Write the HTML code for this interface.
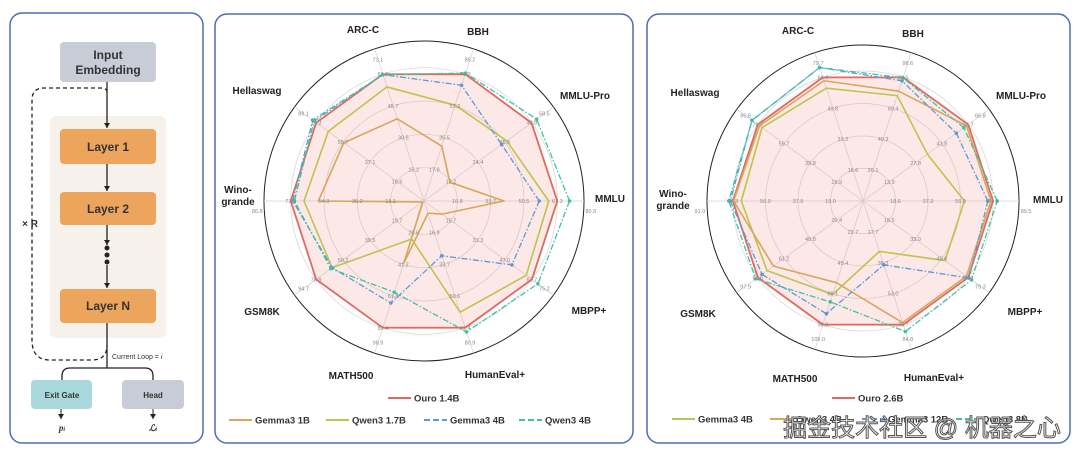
<!DOCTYPE html>
<html><head><meta charset="utf-8">
<style>
body{margin:0;background:#fff;width:1080px;height:457px;overflow:hidden;font-family:"Liberation Sans","Noto Sans CJK SC",sans-serif;}
svg{position:absolute;left:0;top:0}
</style></head>
<body>
<svg id="s" width="1080" height="457" viewBox="0 0 1080 457" xmlns="http://www.w3.org/2000/svg">
<defs>
<marker id="ah" markerWidth="6" markerHeight="6" refX="5" refY="3" orient="auto" markerUnits="userSpaceOnUse"><path d="M0,0 L5,3 L0,6 Z" fill="#222"/></marker>
</defs>
<!-- panels -->
<rect x="10" y="13" width="193" height="430" rx="12" fill="#fff" stroke="#4b6fae" stroke-width="1.5"/>
<rect x="215" y="14" width="418" height="429" rx="12" fill="#fff" stroke="#4b6fae" stroke-width="1.5"/>
<rect x="647" y="14" width="423" height="429" rx="12" fill="#fff" stroke="#4b6fae" stroke-width="1.5"/>

<!-- architecture diagram -->
<g font-weight="bold" text-anchor="middle">
<rect x="50" y="116" width="116" height="222" rx="6" fill="#f6f1ea"/>
<path d="M107,92 Q107,88 100,88 L44,88 Q32,88 32,100 L32,340 Q32,360 50,360 L92,360 Q107,360 107,345" fill="none" stroke="#222" stroke-width="1.3" stroke-dasharray="4,3"/>
<path d="M107,82 L107,128" stroke="#222" stroke-width="1.3" marker-end="url(#ah)"/>
<rect x="60" y="42" width="96" height="40" rx="4" fill="#c8ccd6"/>
<text x="108" y="59" font-size="12" fill="#333">Input</text>
<text x="108" y="74" font-size="12" fill="#333">Embedding</text>
<rect x="60" y="129" width="96" height="35" rx="4" fill="#eda45d"/>
<text x="108" y="151" font-size="12" fill="#333">Layer 1</text>
<path d="M107,164 L107,191" stroke="#222" stroke-width="1.3" marker-end="url(#ah)"/>
<rect x="60" y="192" width="96" height="33" rx="4" fill="#eda45d"/>
<text x="108" y="213" font-size="12" fill="#333">Layer 2</text>
<path d="M107,225 L107,245" stroke="#222" stroke-width="1.3" marker-end="url(#ah)"/>
<path d="M107,265 L107,288" stroke="#222" stroke-width="1.3" marker-end="url(#ah)"/>
<circle cx="107" cy="248" r="2.5" fill="#222"/><circle cx="107" cy="255" r="2.5" fill="#222"/><circle cx="107" cy="262" r="2.5" fill="#222"/>
<rect x="60" y="289" width="96" height="34" rx="4" fill="#eda45d"/>
<text x="108" y="310" font-size="12" fill="#333">Layer N</text>
<text x="30" y="227" font-size="10" fill="#333">× R</text>
<path d="M107,323 L107,368 M62,380 L62,376 Q62,368 70,368 L145,368 Q153,368 153,376 L153,380" fill="none" stroke="#222" stroke-width="1.3"/>
<text x="112" y="359" font-size="7" font-weight="normal" text-anchor="start" fill="#333">Current Loop = <tspan font-style="italic">i</tspan></text>
<rect x="31" y="380" width="61" height="29" rx="4" fill="#a9d9dd"/>
<text x="62" y="398" font-size="8" fill="#333">Exit Gate</text>
<rect x="122" y="380" width="62" height="29" rx="4" fill="#c8ccd6"/>
<text x="153" y="398" font-size="8" fill="#333">Head</text>
<path d="M61,409 L61,419" stroke="#222" stroke-width="1" marker-end="url(#ah)"/>
<path d="M153,409 L153,419" stroke="#222" stroke-width="1" marker-end="url(#ah)"/>
<text x="62" y="431" font-size="9" font-style="italic" font-family="Liberation Serif,serif" fill="#333">p<tspan font-size="6">i</tspan></text>
<text x="153" y="431" font-size="9" font-style="italic" font-family="Liberation Serif,serif" fill="#333">ℒ<tspan font-size="6">i</tspan></text>
</g>

<g id="r1"></g>
<g id="r2"></g>

<text x="922" y="436" font-size="24" text-anchor="middle" fill="#fff" stroke="#555" stroke-width="1" font-family="Liberation Sans,Noto Sans CJK SC,sans-serif">掘金技术社区 @ 机器之心</text>
</svg>
<script>
// chart 1 data
const axes1 = ["MMLU","MMLU-Pro","BBH","ARC-C","Hellaswag","Winogrande","GSM8K","MATH500","HumanEval+","MBPP+"];
const max1 = [80.8,58.5,85.2,73.1,89.1,86.8,94.7,98.9,80.9,75.2];
const ouro14 = [67.3,48.6,71.0,60.9,74.2,72.3,78.9,82.4,67.4,62.7];
const gemma1b = [40.4,11.7,30.7,39.5,55.2,57.3,1.0,40.5,6.5,10.5];
const qwen17b = [63.0,37.4,53.7,54.8,65.9,65.1,67.2,24.7,59.1,59.4];
const gemma4b_1 = [58.2,35.1,64.8,60.7,76.6,71.2,67.2,66.3,29.1,51.1];
const qwen4b_1 = [73.5,50.9,71.6,60.7,75.7,70.3,68.2,59.3,69.6,66.2];
// chart 2 data
const max2 = [89.5,66.8,96.6,79.7,95.6,91.0,97.9,109.0,84.8,79.3];
const ouro26 = [74.6,55.7,80.5,66.4,79.7,75.9,81.6,90.8,70.7,66.1];
const gemma4b_2 = [58.2,34.1,68.6,60.6,76.5,71.0,74.4,68.7,28.8,51.5];
const qwen4b_2 = [73.4,54.8,71.5,64.6,78.4,75.5,69.5,60.0,69.5,65.0];
const gemma12b = [71.6,49.4,78.2,71.7,84.1,77.4,78.3,82.8,36.5,66.6];
const qwen8b = [77.0,53.4,80.2,71.7,84.1,78.3,83.2,74.1,74.6,68.2];

const NS="http://www.w3.org/2000/svg";
function mk(p,tag,attrs){const e=document.createElementNS(NS,tag);for(const k in attrs)e.setAttribute(k,attrs[k]);p.appendChild(e);return e;}
function fmt(v){return v.toFixed(1);}

function radar(g,cx,cy,R,maxes,series,labelPos,legend){
  const n=maxes.length;
  const ang=i=>i*2*Math.PI/n;
  const pt=(i,f)=>[cx+f*R*Math.cos(ang(i)),cy-f*R*Math.sin(ang(i))];
  const oc=mk(g,'circle',{cx,cy,r:R,fill:'none',stroke:'#222','stroke-width':1});
  
  
  for(let k=1;k<=4;k++){
    const c=mk(g,'circle',{cx,cy,r:R*k/4.8,fill:'none',stroke:'#d4d4d4','stroke-width':0.7});
    
    
  }
  for(let i=0;i<n;i++){
    const [x,y]=pt(i,1);
    const l=mk(g,'line',{x1:cx,y1:cy,x2:x,y2:y,stroke:'#d4d4d4','stroke-width':0.7});
    
    
  }
  series.forEach(s=>{
    const pts=s.vals.map((v,i)=>pt(i,v/maxes[i]));
    const p=mk(g,'polygon',{points:pts.map(q=>q.join(',')).join(' '),fill:s.fill||'none',stroke:s.color,'stroke-width':s.w||1.6,'stroke-dasharray':s.dash||'none','stroke-linejoin':'round'});
    
    
    if(s.dots){pts.forEach(q=>{const d=mk(g,'circle',{cx:q[0],cy:q[1],r:1.8,fill:s.color});
      
      });}
  });
  for(let i=0;i<n;i++){
    for(let k=1;k<=4;k++){
      const [x,y]=pt(i,k/4.8);
      const t=mk(g,'text',{x,y:y+2,'font-size':5.5,fill:'#888','text-anchor':'middle'});
      t.textContent=fmt(maxes[i]*k/4.8);
      
      
    }
    const [x,y]=pt(i,0.93);
    const t=mk(g,'text',{x:x+(i==0?18:0)+(i==5?-18:0),y:y+2+(i==0||i==5?10:0),'font-size':5.5,fill:'#888','text-anchor':'middle'});
    t.textContent=fmt(maxes[i]);
    
    
  }
  labelPos.forEach(([txt,x,y])=>{
    const t=mk(g,'text',{x,y,'font-size':10,'font-weight':'bold',fill:'#222','text-anchor':'middle'});
    
    
    const lines=txt.split('|');
    lines.forEach((ln,j)=>{const ts=mk(t,'tspan',{x,dy:j?12:0});ts.textContent=ln;});
  });
  legend.forEach(([name,color,dash,x,y])=>{
    const l=mk(g,'line',{x1:x,y1:y,x2:x+23,y2:y,stroke:color,'stroke-width':2,'stroke-dasharray':dash||'none'});
    
    
    const t=mk(g,'text',{x:x+26,y:y+3.5,'font-size':9.5,'font-weight':'bold',fill:'#333'});
    t.textContent=name;
    
    
  });
}
const RED='#e06a5f',TAN='#d6a75c',GRN='#bcc54e',BLU='#5b9bd5',TEAL='#3fc2a2';
const DD='6,2,1.5,2';
radar(document.getElementById('r1'),424,201,160,max1,[
  {name:'Ouro 1.4B',vals:ouro14,color:RED,fill:'rgba(240,140,130,0.2)',w:1.8},
  {name:'Gemma3 1B',vals:gemma1b,color:TAN},
  {name:'Qwen3 1.7B',vals:qwen17b,color:GRN},
  {name:'Gemma3 4B',vals:gemma4b_1,color:BLU,dash:DD,dots:true,w:1.3},
  {name:'Qwen3 4B',vals:qwen4b_1,color:TEAL,dash:DD,dots:true,w:1.3}
],[["MMLU",610,202],["MMLU-Pro",585,99],["BBH",478,35],["ARC-C",363,33],["Hellaswag",257,94],["Wino-|grande",238,193],["GSM8K",262,315],["MATH500",351,379],["HumanEval+",495,378],["MBPP+",589,314]],
[["Ouro 1.4B",RED,null,388,398],["Gemma3 1B",TAN,null,229,420],["Qwen3 1.7B",GRN,null,326,420],["Gemma3 4B",BLU,'6,3',424,420],["Qwen3 4B",TEAL,'6,3',519,420]]);

radar(document.getElementById('r2'),863,201,156,max2,[
  {name:'Ouro 2.6B',vals:ouro26,color:RED,fill:'rgba(240,140,130,0.2)',w:1.8},
  {name:'Gemma3 4B',vals:gemma4b_2,color:GRN},
  {name:'Qwen3 4B',vals:qwen4b_2,color:TAN},
  {name:'Gemma3 12B',vals:gemma12b,color:BLU,dash:DD,dots:true,w:1.3},
  {name:'Qwen3 8B',vals:qwen8b,color:TEAL,dash:DD,dots:true,w:1.3}
],[["MMLU",1048,203],["MMLU-Pro",1021,99],["BBH",913,37],["ARC-C",798,34],["Hellaswag",695,96],["Wino-|grande",673,197],["GSM8K",698,317],["MATH500",795,382],["HumanEval+",934,381],["MBPP+",1025,315]],
[["Ouro 2.6B",RED,null,832,398],["Gemma3 4B",GRN,null,672,419],["Qwen3 4B",TAN,null,770,419],["Gemma3 12B",BLU,'6,3',862,419],["Qwen3 8B",TEAL,'6,3',956,419]]);
</script>
</body></html>
